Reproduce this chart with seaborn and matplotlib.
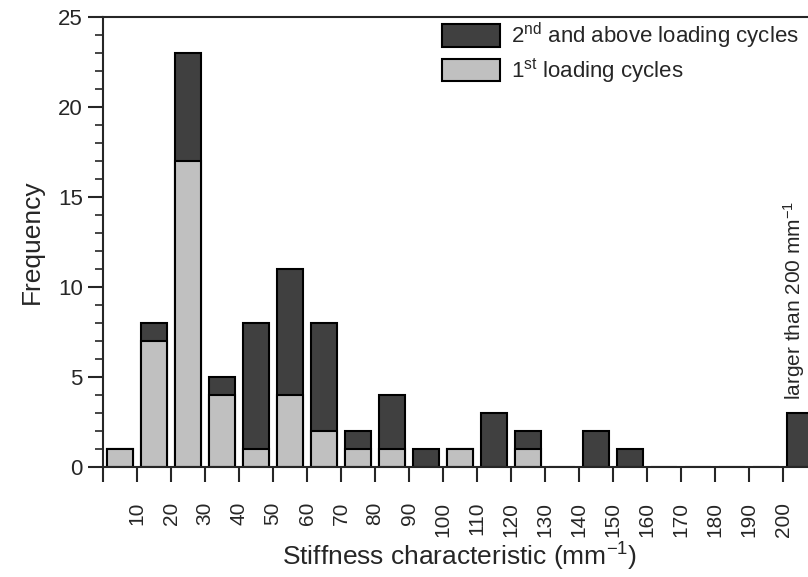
import numpy as np
import pandas as pd
import matplotlib
matplotlib.use("Agg")
import matplotlib.pyplot as plt
import seaborn as sns
from matplotlib.patches import Patch
from matplotlib.ticker import MultipleLocator

# Data
bin_centers = [5, 15, 25, 35, 45, 55, 65, 75, 85, 95, 105, 115, 125, 135, 145, 155, 165, 175, 185, 195, 205]
total_counts = [1, 8, 23, 5, 8, 11, 8, 2, 4, 1, 1, 3, 2, 0, 2, 1, 0, 0, 0, 0, 3]
first_counts = [1, 7, 17, 4, 1, 4, 2, 1, 1, 0, 1, 0, 1, 0, 0, 0, 0, 0, 0, 0, 0]
tick_positions = list(range(0, 220, 10))
tick_labels = [""] + [str(v) for v in range(10, 210, 10)] + [""]
series_names = ["2$^{nd}$ and above loading cycles", "1$^{st}$ loading cycles"]

dark = "#404040"
light = "#c0c0c0"

sns.set_style("ticks")
plt.rcParams["font.family"] = ["Liberation Sans", "DejaVu Sans"]
plt.rcParams["mathtext.default"] = "regular"

fig = plt.figure(figsize=(8.08, 5.77), dpi=100)
ax = fig.add_axes([0.1275, 0.1906, 0.8837, 0.7799])

df = pd.DataFrame({"center": bin_centers, "total": total_counts, "first": first_counts})

sns.barplot(data=df, x="center", y="total", native_scale=True, width=0.75,
            color=dark, saturation=1, edgecolor="black", linewidth=1.5, ax=ax)
sns.barplot(data=df[df["first"] > 0], x="center", y="first", native_scale=True, width=0.75,
            color=light, saturation=1, edgecolor="black", linewidth=1.5, ax=ax)

ax.set_xlim(0, 210)
ax.set_ylim(0, 25)
ax.set_xticks(tick_positions)
ax.set_xticklabels(tick_labels, rotation=90, fontsize=15)
ax.yaxis.set_major_locator(MultipleLocator(5))
ax.yaxis.set_minor_locator(MultipleLocator(1))
ax.tick_params(axis="y", which="major", direction="out", length=11, width=1.5, labelsize=16)
ax.tick_params(axis="y", which="minor", direction="out", length=6, width=1.2)
ax.tick_params(axis="x", which="major", direction="out", length=11, width=1.5, pad=14)
for s in ax.spines.values():
    s.set_linewidth(1.5)

ax.set_xlabel("Stiffness characteristic (mm$^{-1}$)", fontsize=19, labelpad=3)
ax.set_ylabel("Frequency", fontsize=19, labelpad=10)

ax.text(203.3, 3.75, "larger than 200 mm$^{-1}$", rotation=90, ha="center", va="bottom", fontsize=15)

handles = [Patch(facecolor=dark, edgecolor="black", linewidth=1.5),
           Patch(facecolor=light, edgecolor="black", linewidth=1.5)]
fig.legend(handles, series_names, loc="upper right", bbox_to_anchor=(1.0, 0.98),
           frameon=False, fontsize=16, handlelength=2.6, handleheight=1.2,
           handletextpad=0.5, labelspacing=0.25, borderaxespad=0)

fig.savefig("out.png", dpi=100)
